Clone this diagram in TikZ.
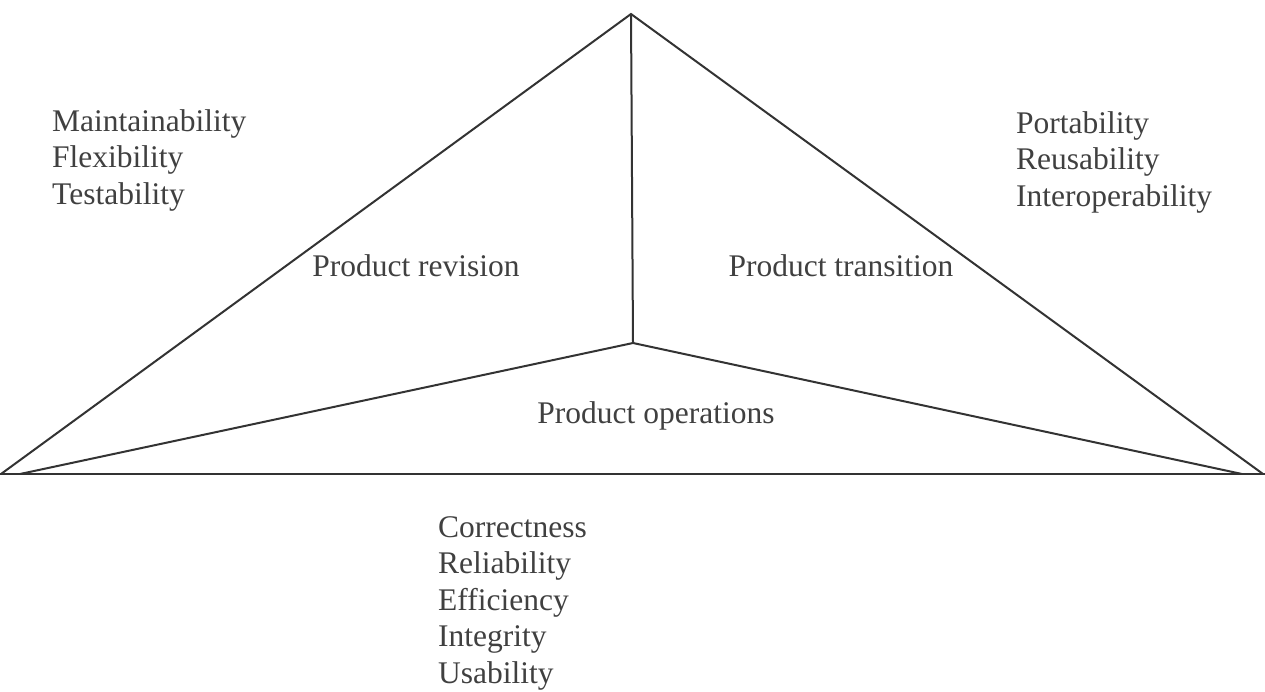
\documentclass[tikz,border=0pt]{standalone}
\usepackage{fontspec}
\setmainfont{LiberationSerif}[Extension=.ttf, UprightFont=*-Regular, BoldFont=*-Bold]
\begin{document}
\begin{tikzpicture}[x=1pt,y=-1pt,
  edge/.style={draw=black!80, line width=2pt, line join=miter},
  label/.style={text=black!75, inner sep=0pt, font=\fontsize{31.5}{36.5}\selectfont},
  factors/.style={label, align=left, anchor=north west}]
  \useasboundingbox (0,0) rectangle (1265,692);

  % corners of the pyramid seen from above
  \coordinate (apex)  at (631,14);
  \coordinate (inner) at (633,343);
  \coordinate (bl)    at (1,474);
  \coordinate (br)    at (1263,474);
  \coordinate (bli)   at (20,474);
  \coordinate (bri)   at (1242,474);
  \coordinate (bl0)   at (0,474);
  \coordinate (br0)   at (1265,474);

  % outline and inner ridges
  \draw[edge] (bl) -- (apex) -- (br);
  \draw[edge] (bl0) -- (br0);
  \draw[edge] (apex) -- (inner);
  \draw[edge] (bli) -- (inner) -- (bri);

  % face names
  \node[label, anchor=base] (rev)  at (416,277) {Product revision};
  \node[label, anchor=base] (tra)  at (841,277) {Product transition};
  \node[label, anchor=base] (ops)  at (656,423) {Product operations};

  % quality factors of each face
  \node[factors] (revf) at (52,109)   {Maintainability\\Flexibility\\Testability};
  \node[factors] (traf) at (1016,111) {Portability\\Reusability\\Interoperability};
  \node[factors] (opsf) at (438,516)  {Correctness\\Reliability\\Efficiency\\Integrity\\Usability};
\end{tikzpicture}
\end{document}
